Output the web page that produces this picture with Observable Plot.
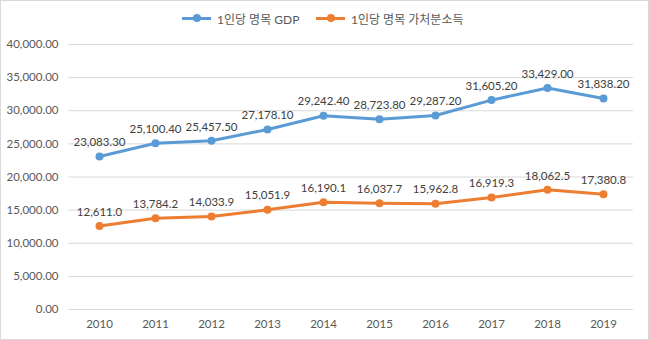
<!DOCTYPE html>
<html><head><meta charset="utf-8">
<script src="https://cdn.jsdelivr.net/npm/d3@7"></script>
<script src="https://cdn.jsdelivr.net/npm/@observablehq/plot@0.6"></script>
<style>
html,body{margin:0;padding:0;background:#fff;}
#wrap{position:relative;width:649px;height:340px;overflow:hidden;font-family:Lato,"Noto Sans CJK KR",sans-serif;}
#frame{position:absolute;left:0;top:0;width:647px;height:338px;border:1px solid #d9d9d9;pointer-events:none;}
#legend{position:absolute;left:0;top:0;width:649px;height:36px;font-size:12px;color:#595959;}
.li{position:absolute;top:10px;display:flex;align-items:center;height:16px;}
.sw{position:relative;width:29px;height:16px;margin-right:6px;}
.sw .ln{position:absolute;left:0;top:6.5px;width:29px;height:3px;}
.sw .dt{position:absolute;left:10.5px;top:4px;width:8px;height:8px;border-radius:50%;}
#chart{position:absolute;left:0;top:36px;}
</style></head>
<body><div id="wrap"><div id="legend"></div><div id="chart"></div><div id="frame"></div></div>
<script>
const years = ["2010","2011","2012","2013","2014","2015","2016","2017","2018","2019"];
const gdp = [23083.30, 25100.40, 25457.50, 27178.10, 29242.40, 28723.80, 29287.20, 31605.20, 33429.00, 31838.20];
const disposable = [12611.0, 13784.2, 14033.9, 15051.9, 16190.1, 16037.7, 15962.8, 16919.3, 18062.5, 17380.8];
const seriesNames = ["1인당 명목 GDP", "1인당 명목 가처분소득"];
const colors = ["#5b9bd5", "#ed7d31"];
const yTicks = [0, 5000, 10000, 15000, 20000, 25000, 30000, 35000, 40000];

const rows = [];
years.forEach((y, i) => {
  rows.push({year: y, value: gdp[i], series: seriesNames[0], label: d3.format(",.2f")(gdp[i])});
  rows.push({year: y, value: disposable[i], series: seriesNames[1], label: d3.format(",.1f")(disposable[i])});
});

const legend = document.getElementById("legend");
const legendX = [182, 316];
seriesNames.forEach((n, i) => {
  const d = document.createElement("div");
  d.className = "li";
  d.style.left = legendX[i] + "px";
  d.innerHTML = `<div class="sw"><div class="ln" style="background:${colors[i]}"></div><div class="dt" style="background:${colors[i]}"></div></div><span>${n}</span>`;
  legend.appendChild(d);
});

const font = "Lato, 'Noto Sans CJK KR', sans-serif";
const plot = Plot.plot({
  width: 649,
  height: 304,
  marginTop: 8,
  marginBottom: 31,
  marginLeft: 68,
  marginRight: 16,
  style: {fontFamily: font, fontSize: "11.5px", color: "#595959", background: "transparent"},
  x: {type: "point", domain: years, padding: 0.5, label: null},
  y: {domain: [0, 40000], label: null},
  color: {domain: seriesNames, range: colors},
  marks: [
    Plot.gridY(yTicks, {stroke: "#d9d9d9", strokeOpacity: 1, strokeWidth: 1}),
    Plot.axisY(yTicks, {tickSize: 0, tickPadding: 10, tickFormat: d3.format(",.2f"), fill: "#595959", fontSize: 11.5, label: null}),
    Plot.axisX({tickSize: 0, tickPadding: 10, fill: "#595959", fontSize: 11.5, label: null}),
    Plot.line(rows, {x: "year", y: "value", z: "series", stroke: "series", strokeWidth: 3}),
    Plot.dot(rows, {x: "year", y: "value", fill: "series", r: 4}),
    Plot.text(rows, {x: "year", y: "value", text: "label", dy: -14, fill: "#404040", fontSize: 11.5})
  ]
});
document.getElementById("chart").appendChild(plot);
</script></body></html>
